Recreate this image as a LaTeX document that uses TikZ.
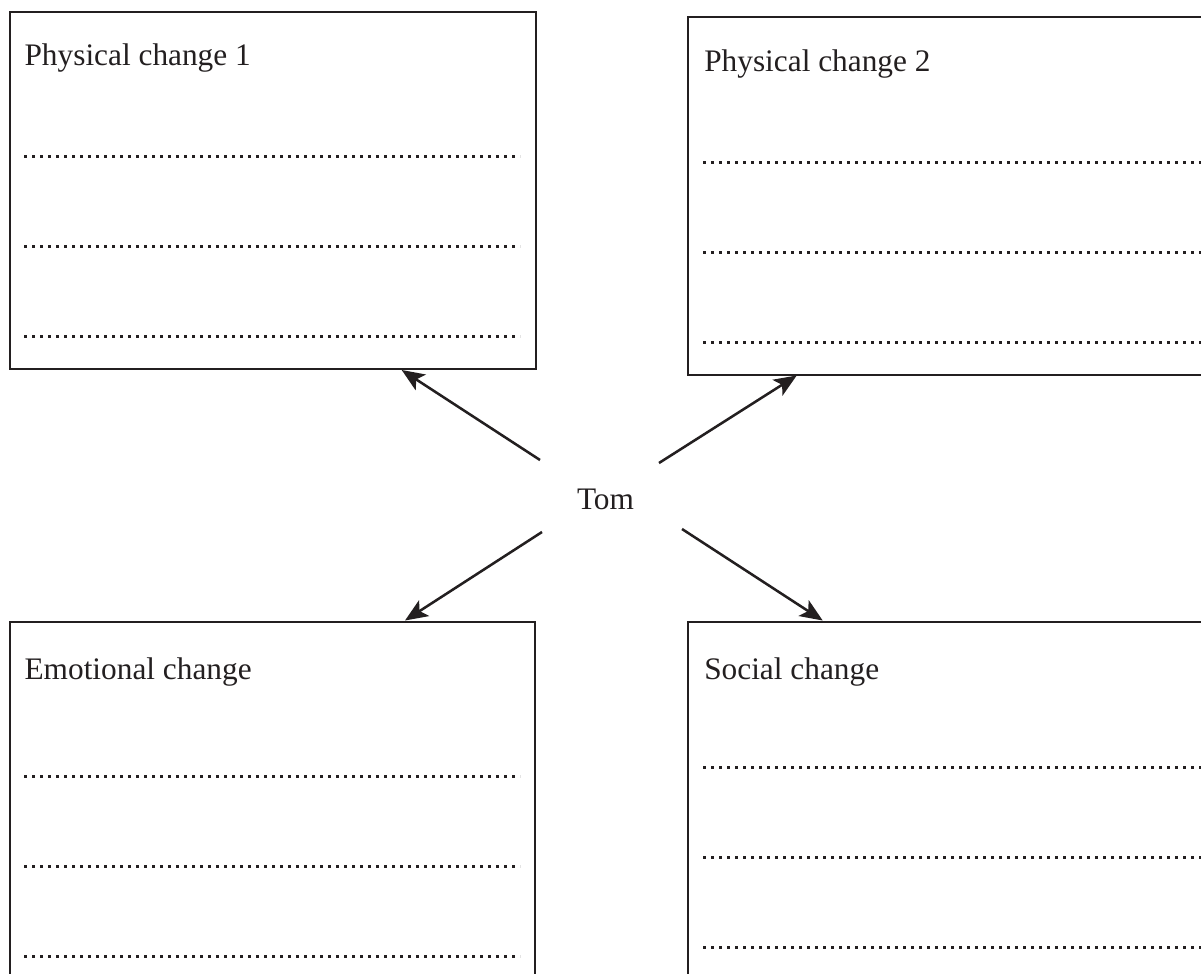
\documentclass[tikz,border=0pt]{standalone}
\usepackage{fontspec}
\setmainfont{Liberation Serif}
\usetikzlibrary{arrows.meta}
\definecolor{ink}{HTML}{231F20}
\begin{document}
\begin{tikzpicture}[x=0.75pt,y=-0.75pt,
  box/.style={draw=ink,line width=1.5pt,minimum width=0pt,inner sep=0pt,rectangle},
  ttl/.style={anchor=base west,inner sep=0pt,font=\fontsize{23.5pt}{28pt}\selectfont,text=ink},
  dotline/.style={draw=ink,line width=1.9pt,dash pattern=on 1.9pt off 4.1pt},
  arr/.style={draw=ink,line width=1.9pt,-{Stealth[length=17pt,width=14pt,inset=4pt]}}]
\useasboundingbox (0,0) rectangle (1201,973);
\clip (0,0) rectangle (1201,973);
% boxes
\draw[box] (9.5,12) rectangle (535.5,369);
\draw[box] (688,17) rectangle (1215,374.5);
\draw[box] (10,621.5) rectangle (535,990);
\draw[box] (688,621.5) rectangle (1215,990);
\node[box,draw=none,minimum width=526*0.75pt,minimum height=357*0.75pt] (tl) at (272.5,190.5) {};
\node[box,draw=none,minimum width=527*0.75pt,minimum height=357.5*0.75pt] (tr) at (951.5,195.75) {};
\node[box,draw=none,minimum width=525*0.75pt,minimum height=368.5*0.75pt] (bl) at (272.5,805.75) {};
\node[box,draw=none,minimum width=527*0.75pt,minimum height=368.5*0.75pt] (br) at (951.5,805.75) {};
% titles
\node[ttl] (t1) at (24.3,66) {Physical change 1};
\node[ttl] (t2) at (704,72) {Physical change 2};
\node[ttl] (t3) at (24.3,679) {Emotional change};
\node[ttl] (t4) at (704,679) {Social change};
% dotted lines
\foreach \y in {156.5,246.5,336.5} \draw[dotline] (24,\y) -- (520,\y);
\foreach \y in {162.5,252.5,342.5} \draw[dotline] (703,\y) -- (1201,\y);
\foreach \y in {776.5,866.5,956.5} \draw[dotline] (24,\y) -- (520,\y);
\foreach \y in {767.5,857.5,947.5} \draw[dotline] (703,\y) -- (1201,\y);
% centre
\node[inner sep=0pt,font=\fontsize{23.5pt}{28pt}\selectfont,text=ink,anchor=base] (tom) at (605.5,509.3) {Tom};
\coordinate (a1) at (540,460);
\coordinate (a2) at (659,463);
\coordinate (a3) at (542,532);
\coordinate (a4) at (682,529);
\draw[arr] (a1) -- (tl.south -| 401.7,0);
\draw[arr] (a2) -- (tr.south -| 796.7,0);
\draw[arr] (a3) -- (bl.north -| 405,0);
\draw[arr] (a4) -- (br.north -| 822.7,0);
\end{tikzpicture}
\end{document}
